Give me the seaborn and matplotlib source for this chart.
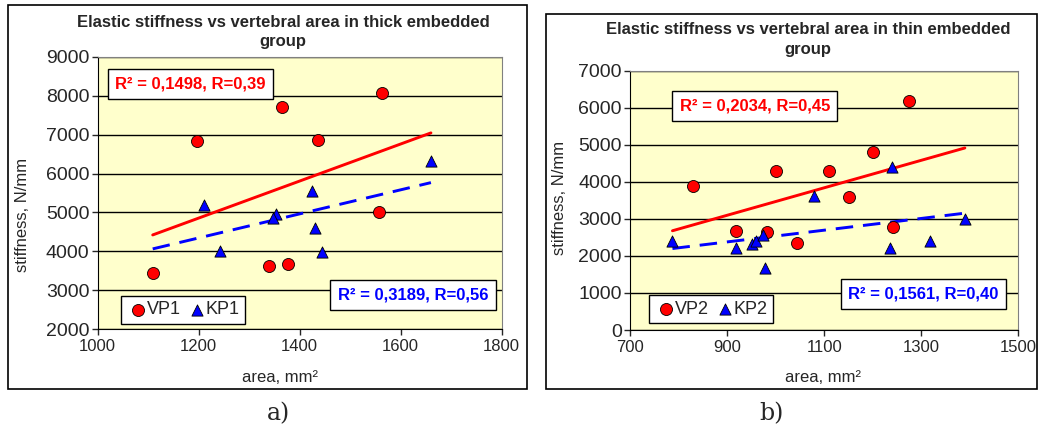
import numpy as np
import pandas as pd
import matplotlib
matplotlib.use('Agg')
import matplotlib.pyplot as plt
from matplotlib.patches import Rectangle
import seaborn as sns

# thick embedded group
vp1_area = [1197, 1365, 1436, 1563, 1558, 1109, 1339, 1377]
vp1_stiff = [6835, 7716, 6860, 8060, 5020, 3440, 3630, 3680]
kp1_area = [1210, 1354, 1348, 1425, 1242, 1431, 1445, 1660]
kp1_stiff = [5180, 4960, 4850, 5540, 4020, 4600, 3990, 6310]

# thin embedded group
vp2_area = [829, 1000, 1110, 1151, 1200, 1275, 919, 983, 1044, 1242]
vp2_stiff = [3880, 4290, 4290, 3600, 4810, 6180, 2670, 2640, 2340, 2780]
kp2_area = [787, 919, 952, 960, 973, 978, 1078, 1240, 1235, 1319, 1390]
kp2_stiff = [2400, 2220, 2310, 2410, 2570, 1680, 3620, 4390, 2220, 2400, 3000]

r_text_1 = ['R² = 0,1498, R=0,39', 'R² = 0,3189, R=0,56']
r_text_2 = ['R² = 0,2034, R=0,45', 'R² = 0,1561, R=0,40']

sns.set_style('white')
plt.rcParams['font.family'] = ['Liberation Sans', 'DejaVu Sans']

fig = plt.figure(figsize=(10.39, 4.32), dpi=100)

# chart frames
fig.patches.append(Rectangle((8 / 1039, 1 - 389 / 432), 519 / 1039, 384 / 432,
                             transform=fig.transFigure, fill=False, ec='black', lw=1.2))
fig.patches.append(Rectangle((546 / 1039, 1 - 389 / 432), 491 / 1039, 375 / 432,
                             transform=fig.transFigure, fill=False, ec='black', lw=1.2))

ax1 = fig.add_axes([0.0940, 0.2377, 0.3888, 0.6310])
ax2 = fig.add_axes([0.6066, 0.2361, 0.3734, 0.6002])


def draw(ax, va, vs, ka, ks, names, rtexts, xlim, ylim, xticks, yticks, pos):
    df_v = pd.DataFrame({'area': va, 'stiffness': vs})
    df_k = pd.DataFrame({'area': ka, 'stiffness': ks})
    ax.set_facecolor('#ffffcc')
    ax.grid(axis='y', color='black', lw=1)
    ax.set_axisbelow(True)

    # trendlines over the range of both series
    x_lo = min(min(va), min(ka))
    x_hi = max(max(va), max(ka))
    xs = np.array([x_lo, x_hi])
    b, a = np.polyfit(va, vs, 1)
    ax.plot(xs, a + b * xs, color='#ff0000', lw=2.1, zorder=2)
    b, a = np.polyfit(ka, ks, 1)
    ax.plot(xs, a + b * xs, color='#0000ff', lw=2.1, dashes=(6, 3.4), zorder=2)

    sns.scatterplot(data=df_v, x='area', y='stiffness', ax=ax, marker='o', s=75,
                    color='#ff0000', edgecolor='black', linewidth=0.6, label=names[0], zorder=3)
    sns.scatterplot(data=df_k, x='area', y='stiffness', ax=ax, marker='^', s=65,
                    color='#0000ff', edgecolor='black', linewidth=0.6, label=names[1], zorder=3)

    ax.set_xlim(xlim)
    ax.set_ylim(ylim)
    ax.set_xticks(xticks)
    ax.set_yticks(yticks)
    ax.tick_params(axis='x', labelsize=12, length=4, width=1, direction='out', bottom=True, pad=3)
    ax.tick_params(axis='y', labelsize=14, length=4, width=1, direction='out', left=True, pad=2)
    ax.set_xlabel('')
    ax.set_ylabel('')
    for s in ['top', 'right']:
        ax.spines[s].set_color('#808080')
    for s in ['left', 'bottom']:
        ax.spines[s].set_color('black')

    leg = ax.legend(loc='lower left', bbox_to_anchor=pos['leg'], ncol=2, fontsize=13,
                    frameon=True, fancybox=False, edgecolor='black', handletextpad=-0.1,
                    columnspacing=0.3, borderpad=0.3, handlelength=1.2, borderaxespad=0.3)
    leg.get_frame().set_linewidth(1)
    leg.get_frame().set_alpha(1)

    box = dict(boxstyle='square,pad=0.45', fc='white', ec='black', lw=1)
    ax.text(*pos['red'], rtexts[0], transform=ax.transAxes, ha='center', va='center',
            color='#ff0000', fontsize=12, fontweight='bold', bbox=box, zorder=5)
    ax.text(*pos['blue'], rtexts[1], transform=ax.transAxes, ha='center', va='center',
            color='#0000ff', fontsize=12, fontweight='bold', bbox=box, zorder=5)


draw(ax1, vp1_area, vp1_stiff, kp1_area, kp1_stiff, ['VP1', 'KP1'], r_text_1,
     (1000, 1800), (2000, 9000), range(1000, 1801, 200), range(2000, 9001, 1000),
     {'leg': (0.045, 0.0), 'red': (0.230, 0.899), 'blue': (0.780, 0.126)})
draw(ax2, vp2_area, vp2_stiff, kp2_area, kp2_stiff, ['VP2', 'KP2'], r_text_2,
     (700, 1500), (0, 7000), range(700, 1501, 200), range(0, 7001, 1000),
     {'leg': (0.035, 0.005), 'red': (0.321, 0.862), 'blue': (0.756, 0.139)})

# titles and axis labels
fig.text(283 / 1039, 1 - 32 / 432,
         'Elastic stiffness vs vertebral area in thick embedded\ngroup',
         ha='center', va='center', fontsize=12, fontweight='bold', linespacing=1.35)
fig.text(808 / 1039, 1 - 39.5 / 432,
         'Elastic stiffness vs vertebral area in thin embedded\ngroup',
         ha='center', va='center', fontsize=12, fontweight='bold', linespacing=1.35)
fig.text(23 / 1039, 1 - 215 / 432, 'stiffness, N/mm', rotation=90,
         ha='center', va='center', fontsize=12)
fig.text(560 / 1039, 1 - 198 / 432, 'stiffness, N/mm', rotation=90,
         ha='center', va='center', fontsize=12)
fig.text(280 / 1039, 1 - 377 / 432, 'area, mm²', ha='center', va='center', fontsize=12)
fig.text(823 / 1039, 1 - 377 / 432, 'area, mm²', ha='center', va='center', fontsize=12)

fig.text(279 / 1039, 1 - 414 / 432, 'a)', ha='center', va='center', fontsize=17,
         family='DejaVu Serif')
fig.text(772 / 1039, 1 - 414 / 432, 'b)', ha='center', va='center', fontsize=17,
         family='DejaVu Serif')

fig.savefig('out.png', dpi=100)
